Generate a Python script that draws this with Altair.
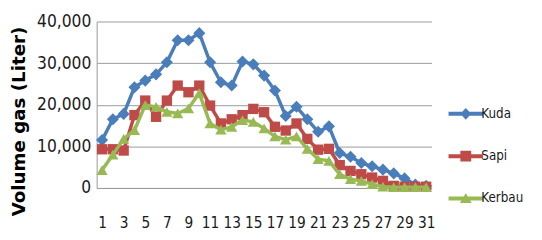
import altair as alt
import pandas as pd

days = list(range(1, 32))
series_names = ["Kuda", "Sapi", "Kerbau"]
kuda = [11500, 16500, 17800, 24200, 25800, 27300, 30200, 35500, 35500, 37200,
        30200, 25400, 24600, 30400, 29700, 27000, 23400, 17300, 19500, 16500,
        13500, 14800, 8400, 7500, 6000, 5200, 4400, 3500, 2300, 800, 500]
sapi = [9300, 9300, 9000, 17500, 21000, 17100, 21000, 24600, 23000, 24600,
        19800, 15500, 16500, 17500, 19000, 18200, 14700, 13800, 15500, 11800,
        9200, 9400, 5500, 4100, 3300, 2500, 1700, 500, 300, 300, 300]
kerbau = [4300, 8000, 11800, 13900, 19900, 19500, 18300, 17900, 19100, 22800,
          15500, 14000, 14700, 16300, 15900, 14300, 12400, 11600, 12400, 9400,
          6900, 6500, 3300, 2100, 1700, 900, 300, 200, 200, 200, 200]
colors = ["#4A7EBB", "#BE4B48", "#98B954"]
shapes = ["diamond", "square", "triangle-up"]
sizes = [150, 110, 130]
x_ticks = list(range(1, 32, 2))
y_ticks = [0, 10000, 20000, 30000, 40000]

rows = []
for name, vals in zip(series_names, [kuda, sapi, kerbau]):
    for d, v in zip(days, vals):
        rows.append({"series": name, "day": d, "value": v})
df = pd.DataFrame(rows)

narrow = "DejaVu Sans Condensed"

x_enc = alt.X("day:Q", scale=alt.Scale(domain=[0.5, 31.5], nice=False, zero=False),
              axis=alt.Axis(values=x_ticks, title=None, grid=False, ticks=False, tickSize=0,
                            labelFont=narrow, labelFontSize=15.5, labelColor="#1a1a1a",
                            labelPadding=40, labelBaseline="alphabetic",
                            labelOverlap=False, labelFlush=False,
                            domainColor="#9a9a9a", domainWidth=1))
y_enc = alt.Y("value:Q", scale=alt.Scale(domain=[0, 40000], nice=False),
              axis=alt.Axis(values=y_ticks, format=",.0f", title="Volume gas (Liter)",
                            ticks=False, tickSize=0, gridColor="#9a9a9a", gridWidth=1,
                            domainColor="#9a9a9a", labelFont=narrow, labelFontSize=17.5,
                            labelColor="#1a1a1a", labelPadding=6, labelOverlap=False,
                            titleFont="DejaVu Sans", titleFontWeight="bold",
                            titleFontSize=18.5, titleColor="#000000",
                            titleX=-79, titleY=101, titleAlign="center",
                            titleBaseline="middle", titleAngle=270))

line_path = "M-3.5,-0.4H3.5V0.4H-3.5Z"
sym_expr = (
    "datum.value == 'Kuda' ? '" + line_path + "M0,-1.2L1.1,0L0,1.2L-1.1,0Z' : "
    "datum.value == 'Sapi' ? '" + line_path + "M-1.1,-1.1H1.1V1.1H-1.1Z' : '"
    + line_path + "M0,-1.1L1.2,0.9H-1.2Z'"
)

legend = alt.Legend(title=None, orient="none", legendX=368, legendY=87, padding=0,
                    labelFont=narrow, labelFontSize=13.5, labelColor="#1a1a1a",
                    symbolSize=100, symbolStrokeWidth=0, symbolOpacity=1,
                    symbolType=alt.ExprRef(sym_expr), labelOffset=9, rowPadding=28)

color_scale = alt.Scale(domain=series_names, range=colors)

layers = []
for name, col, shp, sz in zip(series_names, colors, shapes, sizes):
    base = alt.Chart(df).transform_filter(alt.datum.series == name)
    ln = base.mark_line(strokeWidth=3.5, color=col).encode(x=x_enc, y=y_enc)
    pt = base.mark_point(filled=True, opacity=1, size=sz, strokeWidth=0,
                         shape=shp, color=col).encode(x=x_enc, y=y_enc)
    layers += [ln, pt]

# legend-only layer (no visible marks): carries the series colour scale
legend_layer = alt.Chart(df).transform_filter("false").mark_point(
    filled=True, opacity=1).encode(
    x=x_enc, y=y_enc,
    color=alt.Color("series:N", scale=color_scale, legend=legend))
layers.append(legend_layer)

chart = alt.layer(*layers).properties(
    width=340, height=169,
    autosize=alt.AutoSizeParams(type="none"),
    padding={"left": 90, "top": 12, "right": 104, "bottom": 43},
    background="white",
).configure_view(stroke=None)

chart.save("out.html", embed_options={"renderer": "svg", "actions": False})
